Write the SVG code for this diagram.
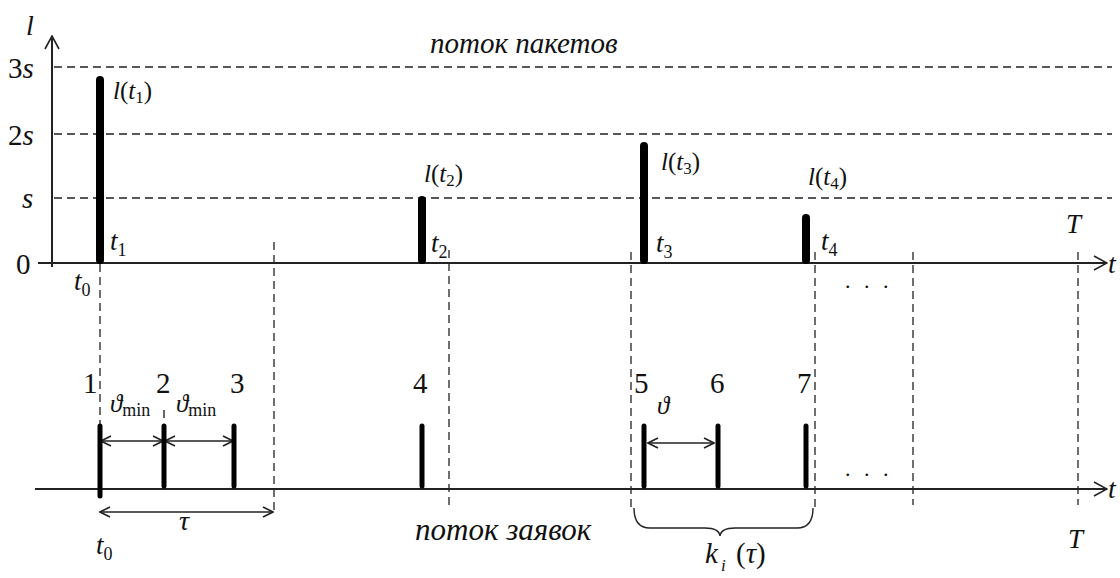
<svg xmlns="http://www.w3.org/2000/svg" width="1120" height="578" viewBox="0 0 1120 578">
<defs>
<style>
text{font-family:"Liberation Serif","Times New Roman",serif;fill:#111;}
.it{font-style:italic;}
.up{font-style:normal;}
.axis{stroke:#222;stroke-width:2;fill:none;}
.dash{stroke:#222;stroke-width:1.3;stroke-dasharray:8,5;fill:none;}
.bar{stroke:#000;stroke-width:8;stroke-linecap:round;}
.bar2{stroke:#000;stroke-width:5;stroke-linecap:round;}
.dim{stroke:#222;stroke-width:1.4;fill:none;}
.head{stroke:#222;stroke-width:1.6;fill:none;}
</style>
<marker id="open" viewBox="0 0 12 12" refX="11" refY="6" markerWidth="12" markerHeight="12" markerUnits="userSpaceOnUse" orient="auto-start-reverse">
<path d="M1,1 L11,6 L1,11" class="head"/>
</marker>
<marker id="axisArrow" viewBox="0 0 16 16" refX="15" refY="8" markerWidth="16" markerHeight="16" markerUnits="userSpaceOnUse" orient="auto">
<path d="M2,1 L15,8 L2,15" class="head"/>
</marker>
</defs>
<g id="grid">
<line class="dash" x1="54" y1="67" x2="1112" y2="67"/>
<line class="dash" x1="54" y1="134" x2="1112" y2="134"/>
<line class="dash" x1="54" y1="198" x2="1112" y2="198"/>
</g>
<g id="connectors">
<line class="dash" x1="100" y1="264" x2="100" y2="425"/>
<line class="dash" x1="274" y1="242" x2="274" y2="515"/>
<line class="dash" x1="449" y1="250" x2="449" y2="508"/>
<line class="dash" x1="631" y1="252" x2="631" y2="508"/>
<line class="dash" x1="815" y1="252" x2="815" y2="508"/>
<line class="dash" x1="913" y1="252" x2="913" y2="505"/>
<line class="dash" x1="1078" y1="252" x2="1078" y2="505"/>
<line class="dim" x1="101" y1="441" x2="163" y2="441" marker-start="url(#open)" marker-end="url(#open)"/>
<line class="dim" x1="165" y1="441" x2="233" y2="441" marker-start="url(#open)" marker-end="url(#open)"/>
<line class="dim" x1="648" y1="443" x2="714" y2="443" marker-start="url(#open)" marker-end="url(#open)"/>
<line class="dim" x1="100" y1="512" x2="273" y2="512" marker-start="url(#open)" marker-end="url(#open)"/>
<line x1="164" y1="410" x2="164" y2="418" class="dim"/>
<path class="dim" d="M634,508 Q634,528 650,528 L705,528 Q719,528 720,536 Q721,528 735,528 L797,528 Q813,528 813,508"/>
</g>
<g id="axes">
<line class="axis" x1="52" y1="267" x2="52" y2="36" marker-end="url(#axisArrow)"/>
<line class="axis" x1="38" y1="263" x2="1107" y2="263" marker-end="url(#axisArrow)"/>
<line class="axis" x1="35" y1="489" x2="1107" y2="489" marker-end="url(#axisArrow)"/>
</g>
<g id="top-labels">
<text class="it" x="26" y="35" font-size="28">l</text>
<text x="8" y="78" font-size="29">3<tspan class="it">s</tspan></text>
<text x="8" y="145" font-size="29">2<tspan class="it">s</tspan></text>
<text class="it" x="22" y="208" font-size="29">s</text>
<text x="16" y="274" font-size="29">0</text>
<text class="it" x="1108" y="273" font-size="28">t</text>
<text class="it" x="1108" y="498" font-size="28">t</text>
<text class="it" x="1066" y="233" font-size="27">T</text>
<text class="it" x="1068" y="548" font-size="27">T</text>
<text class="it" x="430" y="53" font-size="29">поток пакетов</text>
<text class="it" x="415" y="540" font-size="31">поток заявок</text>
</g>
<g id="packet1">
<line class="bar" x1="100" y1="80" x2="100" y2="260"/>
<text class="it" x="113" y="99" font-size="25">l<tspan class="up">(</tspan>t<tspan class="up" font-size="17" dy="4">1</tspan><tspan class="up" dy="-4">)</tspan></text>
<text class="it" x="110" y="250" font-size="27">t<tspan class="up" font-size="18" dy="6">1</tspan></text>
<text class="it" x="74" y="290" font-size="27">t<tspan class="up" font-size="18" dy="6">0</tspan></text>
</g>
<g id="packet2">
<line class="bar" x1="422" y1="200" x2="422" y2="260"/>
<text class="it" x="424" y="182" font-size="25">l<tspan class="up">(</tspan>t<tspan class="up" font-size="17" dy="4">2</tspan><tspan class="up" dy="-4">)</tspan></text>
<text class="it" x="431" y="252" font-size="27">t<tspan class="up" font-size="18" dy="6">2</tspan></text>
</g>
<g id="packet3">
<line class="bar" x1="644" y1="146" x2="644" y2="260"/>
<text class="it" x="661" y="170" font-size="25">l<tspan class="up">(</tspan>t<tspan class="up" font-size="17" dy="4">3</tspan><tspan class="up" dy="-4">)</tspan></text>
<text class="it" x="656" y="252" font-size="27">t<tspan class="up" font-size="18" dy="6">3</tspan></text>
</g>
<g id="packet4">
<line class="bar" x1="806" y1="218" x2="806" y2="260"/>
<text class="it" x="808" y="185" font-size="25">l<tspan class="up">(</tspan>t<tspan class="up" font-size="17" dy="4">4</tspan><tspan class="up" dy="-4">)</tspan></text>
<text class="it" x="821" y="250" font-size="27">t<tspan class="up" font-size="18" dy="6">4</tspan></text>
</g>
<g id="dots">
<text x="845" y="288" font-size="22" letter-spacing="4">. . .</text>
<text x="845" y="476" font-size="22" letter-spacing="4">. . .</text>
</g>
<g id="req1"><line class="bar2" x1="100" y1="426" x2="100" y2="496"/><text x="83" y="393" font-size="29">1</text></g>
<g id="req2"><line class="bar2" x1="164" y1="426" x2="164" y2="486"/><text x="156" y="393" font-size="29">2</text></g>
<g id="req3"><line class="bar2" x1="234" y1="426" x2="234" y2="486"/><text x="230" y="393" font-size="29">3</text></g>
<g id="req4"><line class="bar2" x1="422" y1="426" x2="422" y2="486"/><text x="413" y="393" font-size="29">4</text></g>
<g id="req5"><line class="bar2" x1="644" y1="426" x2="644" y2="486"/><text x="634" y="393" font-size="29">5</text></g>
<g id="req6"><line class="bar2" x1="718" y1="426" x2="718" y2="486"/><text x="710" y="393" font-size="29">6</text></g>
<g id="req7"><line class="bar2" x1="806" y1="426" x2="806" y2="486"/><text x="797" y="393" font-size="29">7</text></g>
<g id="dim-labels">
<text x="110" y="412" font-size="25"><tspan class="it">ϑ</tspan><tspan font-size="18" dy="4">min</tspan></text>
<text x="176" y="412" font-size="25"><tspan class="it">ϑ</tspan><tspan font-size="18" dy="4">min</tspan></text>
<text class="it" x="657" y="414" font-size="25">ϑ</text>
<text class="it" x="179" y="530" font-size="28">τ</text>
<text class="it" x="96" y="554" font-size="27">t<tspan class="up" font-size="18" dy="6">0</tspan></text>
<text class="it" x="705" y="563" font-size="29">k</text>
<text class="it" x="721" y="571" font-size="17">i</text>
<text x="736" y="563" font-size="29">(<tspan class="it">τ</tspan>)</text>
</g>
</svg>
